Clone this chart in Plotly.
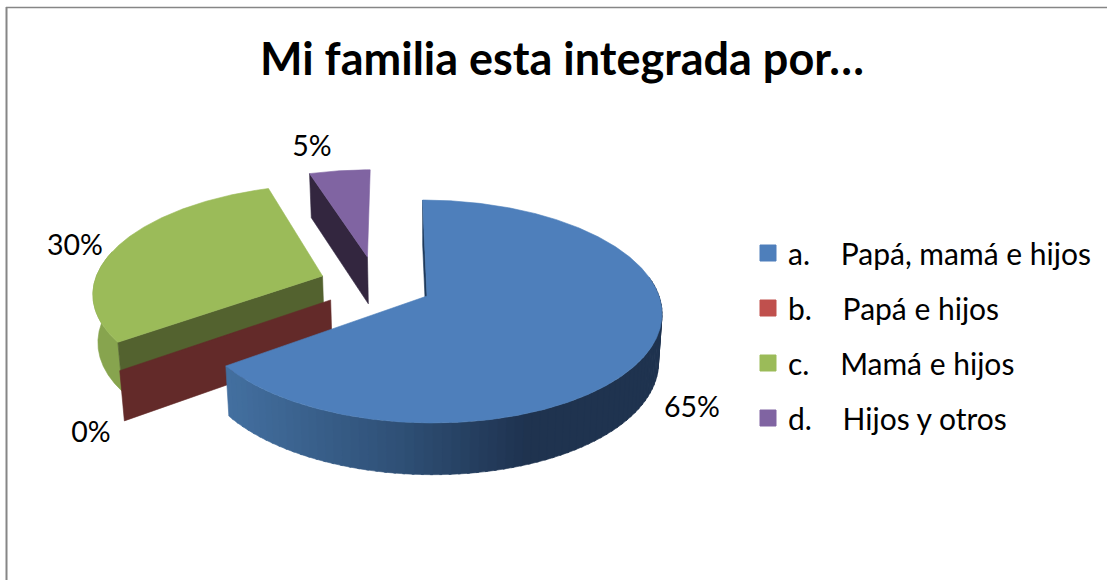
import numpy as np
import plotly.graph_objects as go

# ---- data ----
categories = ["a.", "b.", "c.", "d."]
names = ["Papá, mamá e hijos", "Papá e hijos", "Mamá e hijos", "Hijos y otros"]
values = [65, 0, 30, 5]
title_text = "<b>Mi familia esta integrada por…</b>"

# ---- styles and layout constants ----
FONT = "Lato"
top_colors = ["#4e7fbb", "#c0504d", "#9bbb59", "#8064a2"]
edge_colors = ["#1f3a5c", "#632a29", "#53622f", "#33263f"]
outer_green = "#87a44e"
wall_stops = [(232, (67, 111, 159)), (400, (47, 80, 118)), (525, (31, 51, 80)), (670, (31, 51, 79))]
gap = "\u00a0\u00a0\u00a0\u00a0"
CX, CY, RX, RY, K, SKEW, DEPTH, NARROW = 427, 296, 232, 109.3, 0.139, 5, 48, 0.985
explode = [(0, 0), (-0.414, 0.036), (-0.458, -0.188), (-0.262, -0.375)]
label_pos = [(692, 410), (91, 435), (75, 248), (312, 149)]


def top(wx, wy):
    d = 1 - K * wy
    return CX + (RX * wx + SKEW * wy) / d, CY + RY * wy / d


def bottom(wx, wy):
    x, y = top(wx, wy)
    return CX + (x - CX) * NARROW, y + DEPTH / np.sqrt(1 - K * wy)


def rim(theta, off):
    t = np.radians(theta)
    return np.sin(t) + off[0], -np.cos(t) + off[1]


def poly(pts, color, width=0.6):
    xs = [p[0] for p in pts] + [pts[0][0]]
    ys = [p[1] for p in pts] + [pts[0][1]]
    return go.Scatter(x=xs, y=ys, mode="lines", fill="toself", fillcolor=color,
                      line=dict(color=color, width=width), showlegend=False, hoverinfo="skip")


def edge_wall(theta, off, color):
    w = rim(theta, off)
    return poly([top(*off), top(*w), bottom(*w), bottom(*off)], color)


def arc_wall(a, b, off, color):
    th = np.linspace(a, b, 12)
    pts = [rim(t, off) for t in th]
    return poly([top(*p) for p in pts] + [bottom(*p) for p in pts[::-1]], color)


def top_face(a, b, off, color):
    th = np.linspace(a, b, max(int(b - a), 2) * 2)
    return poly([top(*off)] + [top(*rim(t, off)) for t in th], color)


def wall_color(x):
    xs = [s[0] for s in wall_stops]
    rgb = [int(np.interp(x, xs, [s[1][i] for s in wall_stops])) for i in range(3)]
    return f"rgb({rgb[0]},{rgb[1]},{rgb[2]})"


# slice angles, clockwise from 12 o'clock
bounds = np.concatenate([[0], np.cumsum(values)]) * 360 / sum(values)
start = bounds[:-1]
end = bounds[1:]

fig = go.Figure()

# d: purple, far slice
fig.add_trace(edge_wall(start[3], explode[3], edge_colors[3]))
fig.add_trace(top_face(start[3], end[3], explode[3], top_colors[3]))

# c: green
fig.add_trace(arc_wall(start[2], start[2] + 50, explode[2], outer_green))
fig.add_trace(edge_wall(start[2], explode[2], edge_colors[2]))
fig.add_trace(top_face(start[2], end[2], explode[2], top_colors[2]))

# b: zero-size slice only shows its cut face
fig.add_trace(edge_wall(start[1], explode[1], edge_colors[1]))

# a: blue, with shaded outer wall
fig.add_trace(edge_wall(start[0], explode[0], edge_colors[0]))
steps = np.arange(80, end[0], 2.0)
for t0 in steps:
    t1 = min(t0 + 2.5, end[0])
    p = rim((t0 + t1) / 2, explode[0])
    fig.add_trace(arc_wall(t0, t1, explode[0], wall_color(top(*p)[0])))
fig.add_trace(top_face(start[0], end[0], explode[0], top_colors[0]))

# percentage labels
fig.add_trace(go.Scatter(
    x=[p[0] for p in label_pos], y=[p[1] for p in label_pos],
    text=[f"{v}%" for v in values], mode="text",
    textfont=dict(family=FONT, size=28.5, color="#000000"),
    showlegend=False, hoverinfo="skip"))

# legend entries
for i, (c, n) in enumerate(zip(categories, names)):
    fig.add_trace(go.Scatter(
        x=[None], y=[None], mode="markers", name=f"{c}{gap}{n}", legendgroup=c,
        marker=dict(symbol="square", size=16, color=top_colors[i],
                    line=dict(color=top_colors[i], width=1))))

fig.update_layout(
    width=1107, height=580,
    margin=dict(l=0, r=0, t=0, b=0),
    paper_bgcolor="white", plot_bgcolor="white",
    title=dict(text=title_text, x=562 / 1107, xanchor="center", y=1 - 59 / 580, yanchor="middle",
               font=dict(family=FONT, size=45, color="#000000")),
    xaxis=dict(range=[0, 1107], visible=False, fixedrange=True),
    yaxis=dict(range=[580, 0], visible=False, fixedrange=True),
    legend=dict(x=748 / 1107, xanchor="left", y=1 - 227 / 580, yanchor="top",
                font=dict(family=FONT, size=30, color="#000000"),
                tracegroupgap=13, itemsizing="trace", bgcolor="rgba(0,0,0,0)"),
    shapes=[
        dict(type="line", xref="x", yref="y", x0=6.5, x1=6.5, y0=7, y1=580,
             line=dict(color="#868686", width=2)),
        dict(type="line", xref="x", yref="y", x0=6, x1=1107, y0=7.5, y1=7.5,
             line=dict(color="#868686", width=1.5)),
    ],
)

fig.write_html("out.html", config={"displayModeBar": False},
               post_script="document.body.style.margin='0';")
